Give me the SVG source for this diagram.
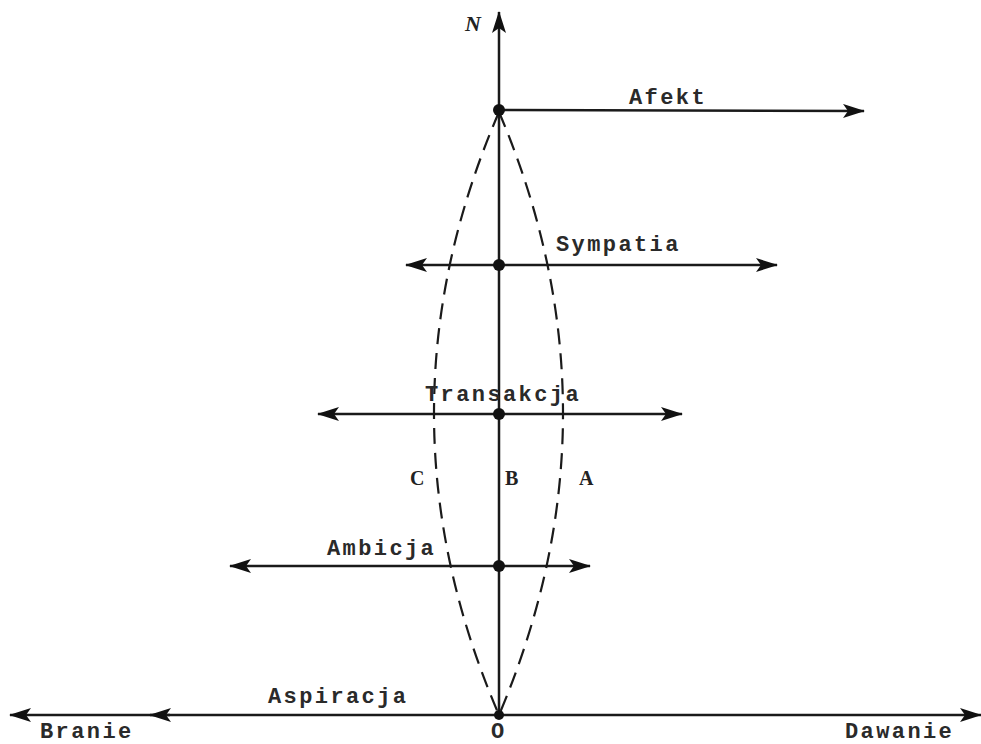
<svg xmlns="http://www.w3.org/2000/svg" width="981" height="744" viewBox="0 0 981 744">
<style>
.ax{stroke:#1a1a1a;stroke-width:2.5;fill:none}
.dash{stroke:#1a1a1a;stroke-width:2.2;fill:none;stroke-dasharray:16 9}
.tw{font-family:"Liberation Mono","Courier New",monospace;font-size:22px;font-weight:bold;letter-spacing:2.4px;fill:#2a2a2a}
.lt{font-family:"Liberation Serif","Times New Roman",serif;font-size:20px;font-weight:bold;fill:#222}
.dot{fill:#111}
</style>
<defs>
<marker id="ah" viewBox="0 0 22 14" refX="21" refY="7" markerWidth="22" markerHeight="14" markerUnits="userSpaceOnUse" orient="auto-start-reverse">
<path d="M0,0 L22,7 L0,14 L5,7 Z" fill="#111"/>
</marker>
</defs>
<g id="connectors">
<line class="ax" x1="499" y1="715" x2="499" y2="12" marker-end="url(#ah)"/>
<line class="ax" x1="499" y1="110" x2="864" y2="111" marker-end="url(#ah)"/>
<line class="ax" x1="406" y1="265" x2="777" y2="265" marker-start="url(#ah)" marker-end="url(#ah)"/>
<line class="ax" x1="318" y1="414" x2="682" y2="414" marker-start="url(#ah)" marker-end="url(#ah)"/>
<line class="ax" x1="230" y1="566" x2="590" y2="566" marker-start="url(#ah)" marker-end="url(#ah)"/>
<line class="ax" x1="10" y1="715" x2="981" y2="715" marker-start="url(#ah)" marker-end="url(#ah)"/>
<line class="ax" x1="150" y1="715" x2="170" y2="715" marker-start="url(#ah)"/>
<path class="dash" d="M499,112 Q369,413 499,715"/>
<path class="dash" d="M499,112 Q627,413 499,715"/>
</g>
<g id="N"><text x="465" y="31" class="lt" style="font-size:22px;font-style:italic">N</text></g>
<g id="afekt"><circle class="dot" cx="499" cy="110" r="6"/><text class="tw" x="629" y="104">Afekt</text></g>
<g id="sympatia"><circle class="dot" cx="499" cy="265" r="6"/><text class="tw" x="556" y="251">Sympatia</text></g>
<g id="transakcja"><circle class="dot" cx="499" cy="414" r="6"/><text class="tw" x="425" y="401">Transakcja</text></g>
<g id="ambicja"><circle class="dot" cx="499" cy="566" r="6"/><text class="tw" x="327" y="555">Ambicja</text></g>
<g id="aspiracja"><circle class="dot" cx="499" cy="715" r="5"/><text class="tw" x="268" y="703">Aspiracja</text></g>
<g id="branie"><text class="tw" x="40" y="738">Branie</text></g>
<g id="o"><text class="tw" x="491" y="738">O</text></g>
<g id="dawanie"><text class="tw" x="845" y="738">Dawanie</text></g>
<g id="C"><text class="lt" x="410" y="485">C</text></g>
<g id="B"><text class="lt" x="505" y="485">B</text></g>
<g id="A"><text class="lt" x="579" y="485">A</text></g>
</svg>
